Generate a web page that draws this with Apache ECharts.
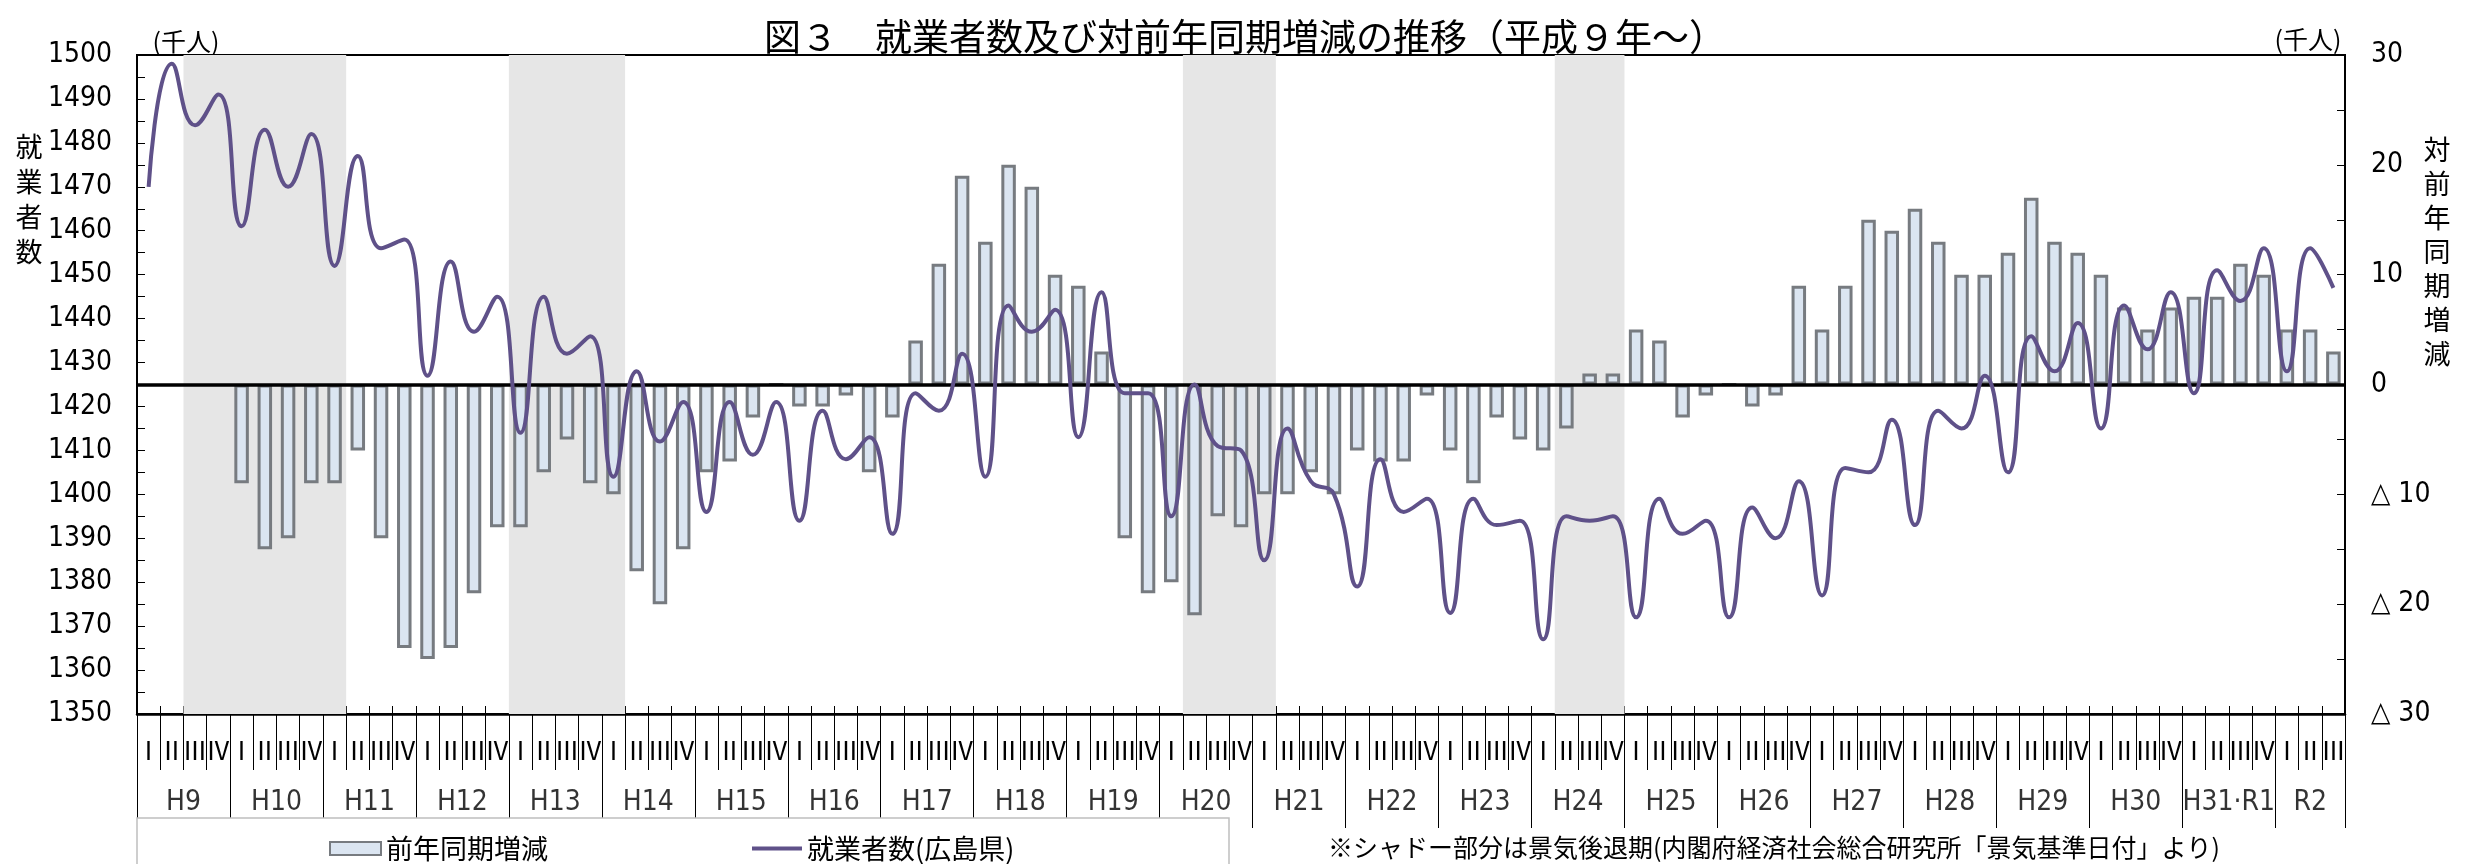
<!DOCTYPE html>
<html><head><meta charset="utf-8">
<script src="https://cdn.jsdelivr.net/npm/echarts@6/dist/echarts.min.js"></script>
<style>html,body{margin:0;padding:0;background:#fff}#c{width:2475px;height:864px}</style>
</head><body><div id="c"></div>
<script>
// ---- data ----
const years = ['H9','H10','H11','H12','H13','H14','H15','H16','H17','H18','H19','H20','H21','H22','H23','H24','H25','H26','H27','H28','H29','H30','H31·R1','R2'];
const quartersInYear = [4,4,4,4,4,4,4,4,4,4,4,4,4,4,4,4,4,4,4,4,4,4,4,3];
const quarterLabels = ['Ⅰ','Ⅱ','Ⅲ','Ⅳ'];
// 就業者数（広島県） 千人
const employed = [
  1470,1498,1484,1491, 1461,1483,1470,1482, 1452,1477,1456,1458, 1427,1453,1437,1445,
  1414,1445,1432,1436, 1404,1428,1412,1421, 1396,1421,1409,1421, 1394,1419,1408,1413,
  1391,1423,1419,1432, 1404,1443,1437,1442, 1413,1446,1423,1423, 1395,1425,1411,1410,
  1385,1415,1403,1400, 1379,1408,1396,1399, 1373,1399,1393,1394, 1367,1395,1394,1395,
  1372,1399,1391,1394, 1372,1397,1390,1403, 1377,1406,1405,1417, 1393,1419,1415,1427,
  1405,1436,1428,1439, 1415,1443,1433,1446, 1423,1451,1444,1456, 1428,1456,1447
];
// 前年同期増減 千人
const yoyChange = [
  null,null,null,null, -9,-15,-14,-9, -9,-6,-14,-24, -25,-24,-19,-13,
  -13,-8,-5,-9, -10,-17,-20,-15, -8,-7,-3,0, -2,-2,-1,-8,
  -3,4,11,19, 13,20,18,10, 9,3,-14,-19, -18,-21,-12,-13,
  -10,-10,-8,-10, -6,-7,-7,-1, -6,-9,-3,-5, -6,-4,1,1,
  5,4,-3,-1, 0,-2,-1,9, 5,9,15,14, 16,13,10,10,
  12,17,13,12, 10,7,5,7, 8,8,11,10, 5,5,3
];
// 景気後退期 (first quarter, last quarter)
const recessions = [['H9-3','H11-1'],['H13-1','H14-1'],['H20-2','H21-1'],['H24-2','H24-4']];

// ---- build ----
const categories = [];
years.forEach((y,k)=>{ for(let q=1;q<=quartersInYear[k];q++) categories.push(y+'-'+q); });
const N = categories.length;
const recessionAreas = recessions.map(([s,e]) => [{xAxis: categories.indexOf(s)}, {xAxis: categories.indexOf(e)+1}]);
const YEAR_LABEL_Y = 0.22;
let acc = 0;
const yearLabelData = years.map((y,k)=>{ const c = acc + quartersInYear[k]/2; acc += quartersInYear[k]; return [c, YEAR_LABEL_Y, y]; });

const NARROW = "'Liberation Sans Narrow','DejaVu Sans Condensed','Liberation Sans',sans-serif";
const JP = "'Noto Sans CJK JP',sans-serif";
const GL = 137, GR = 130, GT = 55, GH = 659;
const LINE_COLOR = '#5f5189';

const chart = echarts.init(document.getElementById('c'), null, {renderer:'canvas'});
chart.setOption({
  animation: false,
  backgroundColor: '#fff',
  grid: [
    {left: GL, right: GR, top: GT, height: GH, show: true, borderColor: '#000', borderWidth: 2, backgroundColor: 'transparent'},
    {left: GL, right: GR, top: GT + GH, height: 114}
  ],
  xAxis: [
    {type:'category', gridIndex:0, data: categories, boundaryGap:true, position:'bottom',
     axisLine:{onZero:false, lineStyle:{color:'#000', width:2.5}},
     axisTick:{show:true, interval:0, length:56, lineStyle:{color:'#000', width:1}},
     axisLabel:{interval:0, margin:24, fontSize:25, fontFamily:JP, color:'#000',
       formatter: v => quarterLabels[+v.split('-').pop()-1]}},
    {type:'category', gridIndex:0, data: categories, position:'bottom',
     axisLine:{show:false, onZero:false}, axisTick:{show:true, inside:true, interval:0, length:8, lineStyle:{color:'#000', width:1}},
     axisLabel:{show:false}},
    {type:'value', gridIndex:0, min:0, max:N, show:false},
    {type:'value', gridIndex:1, min:0, max:N, interval:4,
     axisLine:{show:false, onZero:false}, axisTick:{show:false}, axisLabel:{show:false},
     splitLine:{show:true, lineStyle:{color:'#000', width:1}}}
  ],
  yAxis: [
    {type:'value', gridIndex:0, min:1350, max:1500, interval:10, position:'left',
     axisLine:{show:true, onZero:false, lineStyle:{color:'#000', width:2}},
     axisTick:{show:true, inside:true, length:8, lineStyle:{color:'#000'}},
     minorTick:{show:true, splitNumber:2, length:8, lineStyle:{color:'#000'}},
     splitLine:{show:false},
     axisLabel:{fontSize:28, margin:25, color:'#000', fontFamily:NARROW, formatter: v => String(v)}},
    {type:'value', gridIndex:0, min:-30, max:30, interval:10, position:'right',
     axisLine:{show:true, onZero:false, lineStyle:{color:'#000', width:2}},
     axisTick:{show:true, inside:true, length:8, lineStyle:{color:'#000'}},
     minorTick:{show:true, splitNumber:2, length:8, lineStyle:{color:'#000'}},
     splitLine:{show:false},
     axisLabel:{fontSize:28, margin:26, color:'#000', fontFamily:NARROW, align:'left',
       formatter: v => v < 0 ? '△ ' + (-v) : String(v)}},
    {type:'value', gridIndex:1, min:0, max:1, show:false}
  ],
  legend: [
    {data:[{name:'前年同期増減', icon:'rect'}], left:329, top:835, itemWidth:51, itemHeight:13, padding:0,
     selectedMode:false, z:10, textStyle:{fontSize:27, fontFamily:JP, color:'#000', lineHeight:27}},
    {data:[{name:'就業者数(広島県)', icon:'rect', itemStyle:{color:LINE_COLOR, borderWidth:0}}], left:752, top:835, itemWidth:50, itemHeight:4, padding:0,
     selectedMode:false, z:10, textStyle:{fontSize:27, fontFamily:JP, color:'#000', lineHeight:27}}
  ],
  graphic: [
    {type:'rect', z:8, shape:{x:137, y:818, width:1092, height:60}, style:{fill:'#fff', stroke:'#bfbfbf', lineWidth:1.5}},
    {type:'text', x:1245, y:37, style:{text:'図３　就業者数及び対前年同期増減の推移（平成９年～）', font:'37px '+JP, fill:'#000', align:'center', verticalAlign:'middle'}},
    {type:'text', x:186, y:41, style:{text:'(千人)', font:'25px '+JP, fill:'#000', align:'center', verticalAlign:'middle'}},
    {type:'text', x:2308, y:39, style:{text:'(千人)', font:'25px '+JP, fill:'#000', align:'center', verticalAlign:'middle'}},
    {type:'text', x:29, y:199, style:{text:'就\n業\n者\n数', font:'27px '+JP, lineHeight:35, fill:'#000', align:'center', verticalAlign:'middle'}},
    {type:'text', x:2437, y:252, style:{text:'対\n前\n年\n同\n期\n増\n減', font:'27px '+JP, lineHeight:34, fill:'#000', align:'center', verticalAlign:'middle'}},
    {type:'text', x:1328, y:847, style:{text:'※シャドー部分は景気後退期(内閣府経済社会総合研究所「景気基準日付」より)', font:'25px '+JP, fill:'#000', align:'left', verticalAlign:'middle'}}
  ],
  series: [
    {name:'recession', type:'line', xAxisIndex:2, yAxisIndex:0, data:[], z:1, silent:true,
     markArea:{silent:true, itemStyle:{color:'#e6e6e6'}, data: recessionAreas}},
    {name:'前年同期増減', type:'bar', xAxisIndex:0, yAxisIndex:1, data: yoyChange, barWidth:14.5, z:2,
     itemStyle:{color:'#dbe5f1', borderColor:'#777b80', borderWidth:3},
     markLine:{silent:true, symbol:['none','none'], label:{show:false}, z:3,
       lineStyle:{color:'#000', width:3.5, type:'solid'}, data:[{yAxis:0}]}},
    {name:'就業者数(広島県)', type:'line', xAxisIndex:0, yAxisIndex:0, data: employed, smooth:true,
     symbol:'none', showSymbol:false, z:4, lineStyle:{color:LINE_COLOR, width:4}, itemStyle:{color:LINE_COLOR}},
    {name:'years', type:'scatter', xAxisIndex:3, yAxisIndex:2, data: yearLabelData, symbolSize:1, silent:true, z:5,
     itemStyle:{color:'rgba(0,0,0,0)'},
     label:{show:true, position:'inside', formatter: p => p.data[2], fontSize:28, fontFamily:NARROW, color:'#000'}}
  ]
});
</script></body></html>
